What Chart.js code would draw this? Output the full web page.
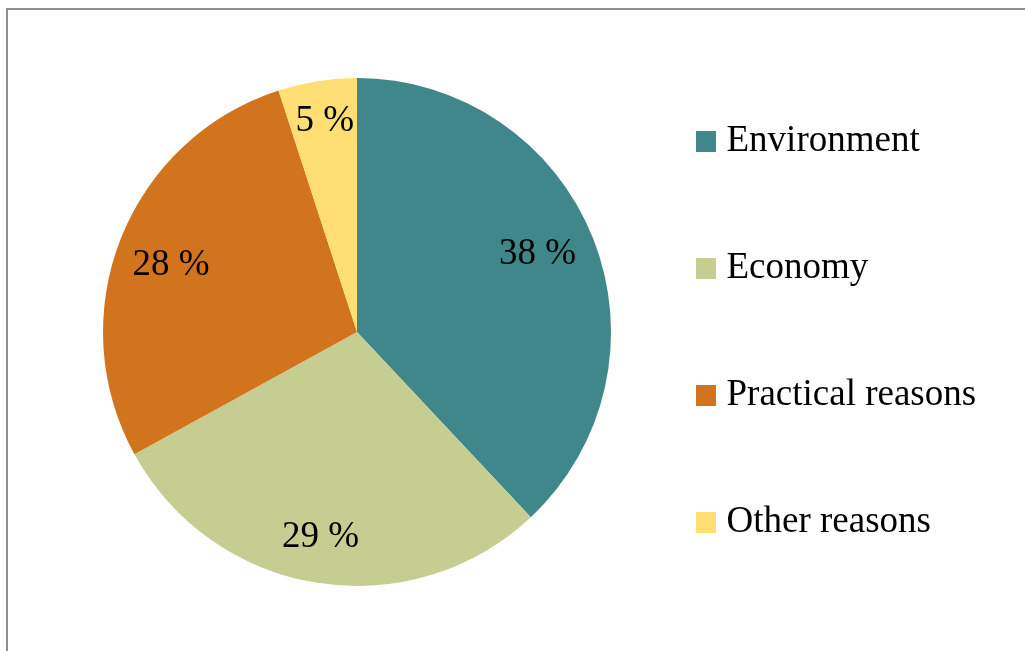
<!DOCTYPE html>
<html>
<head>
<meta charset="utf-8">
<script src="https://cdn.jsdelivr.net/npm/chart.js@4/dist/chart.umd.min.js"></script>
<style>
  html, body { margin: 0; padding: 0; background: #fff; overflow: hidden; }
  .frame {
    position: absolute;
    left: 6px; top: 8px; right: 0; bottom: 0;
    border-top: 2px solid #8e8e8e;
    border-left: 2px solid #8e8e8e;
  }
  .chart-box { position: absolute; left: 0; top: 0; width: 1017px; height: 641px; }
</style>
</head>
<body>
<div class="frame">
  <div class="chart-box"><canvas id="pie-chart"></canvas></div>
</div>
<script>
const categories = ["Environment", "Economy", "Practical reasons", "Other reasons"];
const shares = [38, 29, 28, 5];
const sliceColors = ["#40878c", "#c6cd91", "#d2731d", "#ffdf73"];

// where each percentage sits: part of the radius, and a small turn in degrees
const labelRadius = [0.776, 0.813, 0.781, 0.847];
const labelTurn = [-2.1, 1.2, -1.3, 0.4];

const fontFamily = "'Liberation Serif', 'Times New Roman', serif";
const fontSize = 37;
const rowPadding = 90;
const markWidth = 4; // layout width of the legend mark, the square itself is drawn wider

// legend squares as small canvases so the gap to the text can be tighter
const squares = sliceColors.map((c) => {
  const cv = document.createElement("canvas");
  cv.width = 20;
  cv.height = 21;
  const g = cv.getContext("2d");
  g.fillStyle = c;
  g.fillRect(0, 0, 20, 21);
  return cv;
});

// right padding so the legend lands where it should
const measure = document.createElement("canvas").getContext("2d");
measure.font = fontSize + "px " + fontFamily;
const longest = Math.max(...categories.map((c) => measure.measureText(c).width));
const legendLeft = 606;
const legendWidth = rowPadding + markWidth + fontSize / 2 + longest + 10;
const padRight = Math.max(0, 1017 - legendLeft - legendWidth);

const percentLabels = {
  id: "percentLabels",
  afterDatasetsDraw(chart) {
    const ctx = chart.ctx;
    const meta = chart.getDatasetMeta(0);
    ctx.save();
    ctx.font = "37px " + fontFamily;
    ctx.fillStyle = "#000";
    ctx.textAlign = "center";
    ctx.textBaseline = "middle";
    meta.data.forEach((arc, i) => {
      const p = arc.getProps(["x", "y", "startAngle", "endAngle", "outerRadius"], true);
      const mid = (p.startAngle + p.endAngle) / 2 + (labelTurn[i] * Math.PI) / 180;
      const r = p.outerRadius * labelRadius[i];
      // +2 so the digits, not the em box, sit on the point
      ctx.fillText(shares[i] + " %", p.x + Math.cos(mid) * r, p.y + Math.sin(mid) * r + 2);
    });
    ctx.restore();
  },
};

new Chart(document.getElementById("pie-chart"), {
  type: "pie",
  data: {
    labels: categories,
    datasets: [
      {
        data: shares,
        backgroundColor: sliceColors,
        borderWidth: 0,
        clip: false,
      },
    ],
  },
  options: {
    responsive: true,
    maintainAspectRatio: false,
    animation: false,
    radius: 254,
    layout: {
      padding: { top: 3, bottom: 0, left: 92, right: padRight },
    },
    plugins: {
      tooltip: { enabled: false },
      legend: {
        position: "right",
        align: "center",
        labels: {
          usePointStyle: true,
          pointStyleWidth: markWidth,
          padding: rowPadding,
          color: "#000",
          font: { family: fontFamily, size: fontSize },
          generateLabels: (chart) =>
            chart.data.labels.map((text, i) => ({
              text,
              fillStyle: sliceColors[i],
              strokeStyle: sliceColors[i],
              lineWidth: 0,
              pointStyle: squares[i],
              hidden: false,
              index: i,
            })),
        },
      },
    },
  },
  plugins: [percentLabels],
});
</script>
</body>
</html>
